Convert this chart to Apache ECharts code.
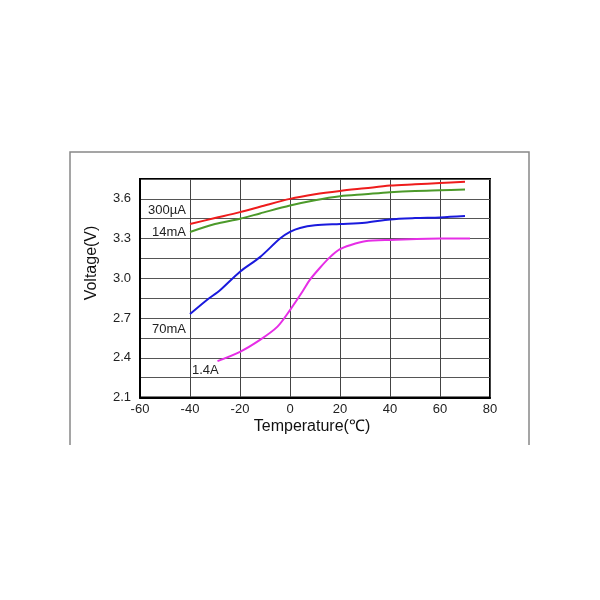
<!DOCTYPE html>
<html>
<head>
<meta charset="UTF-8">
<title>Voltage vs Temperature</title>
<script src="https://cdn.jsdelivr.net/npm/echarts@6/dist/echarts.min.js"></script>
<style>
  html, body { margin: 0; padding: 0; background: #fff; }
  #main { width: 600px; height: 600px; }
</style>
</head>
<body>
<div id="main"></div>
<script>
// data: [temperature, voltage]
var red300uA = [[-40, 3.41], [-30, 3.455], [-20, 3.50], [-12, 3.54], [0, 3.60], [10, 3.635], [20, 3.66], [30, 3.68], [40, 3.70], [50, 3.71], [60, 3.72], [70, 3.73]];
var green14mA = [[-40, 3.35], [-30, 3.41], [-20, 3.45], [-12, 3.49], [0, 3.55], [10, 3.59], [20, 3.62], [30, 3.635], [40, 3.65], [50, 3.66], [60, 3.665], [70, 3.67]];
var blue70mA = [[-40, 2.73], [-33, 2.84], [-28, 2.91], [-20, 3.05], [-12, 3.16], [-4, 3.30], [0, 3.35], [4, 3.38], [10, 3.40], [20, 3.41], [30, 3.42], [40, 3.445], [50, 3.455], [60, 3.46], [70, 3.47]];
var mag1_4A = [[-29, 2.375], [-20, 2.445], [-12, 2.535], [-5, 2.635], [0, 2.76], [5, 2.90], [8, 2.99], [12, 3.08], [16, 3.16], [20, 3.22], [24, 3.25], [30, 3.28], [40, 3.29], [60, 3.30], [72, 3.30]];
var xTicks = { min: -60, max: 80, step: 20 };
var yTicks = { min: 2.1, max: 3.75, step: 0.15 };

var myChart = echarts.init(document.getElementById('main'));
var font = 'Liberation Sans, Arial, sans-serif';

function line(data, color) {
  return {
    type: 'line', data: data, smooth: 0.3,
    showSymbol: false, lineStyle: { color: color, width: 2 }
  };
}

var option = {
  backgroundColor: '#fff',
  animation: false,
  grid: {
    left: 140, top: 179, width: 350, height: 218.5,
    show: true, borderColor: '#000', borderWidth: 2
  },
  xAxis: {
    type: 'value', min: xTicks.min, max: xTicks.max, interval: xTicks.step,
    axisLine: { onZero: false, lineStyle: { color: '#000', width: 2 } },
    axisTick: { show: false },
    axisLabel: { color: '#222', fontSize: 13, fontFamily: font, margin: 5 },
    splitLine: { lineStyle: { color: '#444', width: 1 } }
  },
  yAxis: {
    type: 'value', min: yTicks.min, max: yTicks.max, interval: yTicks.step,
    axisLine: { onZero: false, lineStyle: { color: '#000', width: 2 } },
    axisTick: { show: false },
    axisLabel: {
      color: '#222', fontSize: 13, fontFamily: font, margin: 9,
      formatter: function (v) {
        var i = Math.round((v - yTicks.min) / yTicks.step);
        return i % 2 ? '' : v.toFixed(1);
      }
    },
    splitLine: { lineStyle: { color: '#555', width: 1 } }
  },
  series: [
    line(red300uA, '#ee1c1c'),
    line(green14mA, '#4c9a2a'),
    line(blue70mA, '#1a1add'),
    line(mag1_4A, '#e62ee6')
  ],
  graphic: [
    { type: 'polyline', shape: { points: [[70, 445], [70, 152], [529, 152], [529, 445]] },
      style: { stroke: '#888', lineWidth: 1.5, fill: null } },
    { type: 'text', x: 148, y: 210, style: { text: '300µA', font: '13px ' + font, fill: '#222', verticalAlign: 'middle' } },
    { type: 'text', x: 152, y: 232, style: { text: '14mA', font: '13px ' + font, fill: '#222', verticalAlign: 'middle' } },
    { type: 'text', x: 152, y: 329, style: { text: '70mA', font: '13px ' + font, fill: '#222', verticalAlign: 'middle' } },
    { type: 'text', x: 192, y: 370, style: { text: '1.4A', font: '13px ' + font, fill: '#222', verticalAlign: 'middle' } },
    { type: 'text', x: 312, y: 427, style: { text: 'Temperature(℃)', font: '16px ' + font, fill: '#111', align: 'center', verticalAlign: 'middle' } },
    { type: 'text', x: 92, y: 263, rotation: Math.PI / 2, style: { text: 'Voltage(V)', font: '16px ' + font, fill: '#111', align: 'center', verticalAlign: 'middle' } }
  ]
};

myChart.setOption(option);
</script>
</body>
</html>
